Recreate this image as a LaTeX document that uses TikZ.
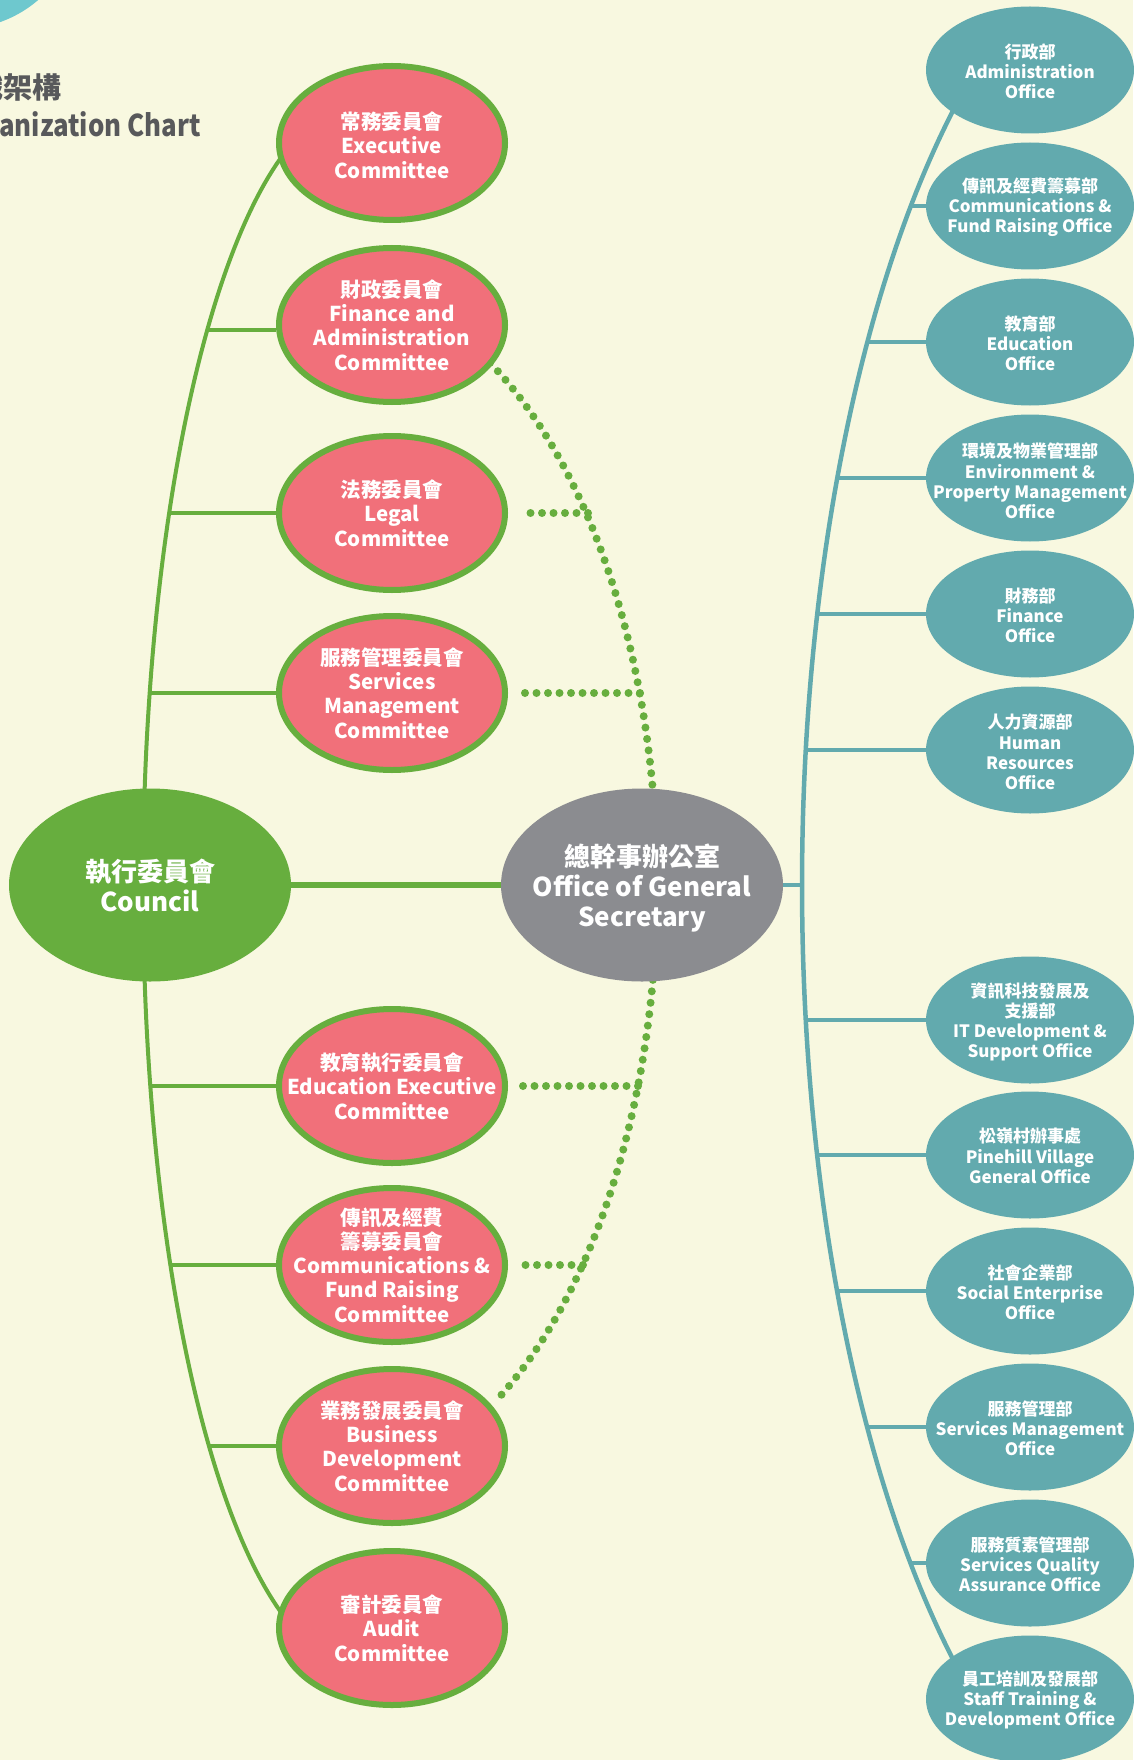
\documentclass[tikz,border=0pt]{standalone}
\usepackage{fontspec}
\setmainfont{Noto Sans CJK TC}
\newfontfamily\titlefont{Noto Sans CJK TC}[FakeStretch=0.86]
\usetikzlibrary{shapes.geometric}
\definecolor{bgc}{RGB}{248,248,224}
\definecolor{cgreen}{RGB}{103,174,62}
\definecolor{cred}{RGB}{241,112,122}
\definecolor{cgray}{RGB}{139,140,144}
\definecolor{cteal}{RGB}{98,170,174}
\definecolor{ctitle}{RGB}{88,89,91}
\definecolor{ccirc}{RGB}{110,200,206}
\pgfdeclarelayer{bg}
\pgfsetlayers{bg,main}
\tikzset{
  redell/.style={ellipse, draw=cgreen, line width=6pt, fill=cred, minimum width=226pt, minimum height=154pt, inner sep=0pt},
  tealell/.style={ellipse, fill=cteal, minimum width=208pt, minimum height=127pt, inner sep=0pt},
  redtxt/.style={text=white, align=center, inner sep=0pt, font=\bfseries\fontsize{20.5pt}{24.3pt}\selectfont},
  tealtxt/.style={text=white, align=center, inner sep=0pt, font=\bfseries\fontsize{17pt}{20.2pt}\selectfont},
  bigtxt/.style={text=white, align=center, inner sep=0pt, font=\bfseries\fontsize{26pt}{30pt}\selectfont},
  gline/.style={draw=cgreen, line width=4pt},
  tline/.style={draw=cteal, line width=4.5pt},
  dotline/.style={draw=cgreen, line width=8pt, line cap=round, dash pattern=on 0pt off 11.5pt},
  titlecjk/.style={text=ctitle, inner sep=0pt, font=\bfseries\fontsize{29pt}{34pt}\selectfont},
  titletxt/.style={text=ctitle, inner sep=0pt, font=\titlefont\bfseries\fontsize{30pt}{34pt}\selectfont}
}
\begin{document}
\begin{tikzpicture}[x=1pt,y=-1pt]
\useasboundingbox (0,0) rectangle (1133,1760);

% ---- title ----
\node[titlecjk, anchor=east] (title1) at (62,87) {組織架構};
\node[titletxt, anchor=base east] (title2) at (201,137) {Organization Chart};

% ---- central nodes ----
\node[ellipse, fill=cgreen, minimum width=282pt, minimum height=193pt, inner sep=0pt] (council) at (150,885) {};
\node[bigtxt] (councilt) at (council) {執行委員會\\Council};
\node[ellipse, fill=cgray, minimum width=282pt, minimum height=193pt, inner sep=0pt] (gs) at (642,885) {};
\node[bigtxt] (gst) at (642,888) {總幹事辦公室\\Office of General\\Secretary};

% ---- committees ----
\node[redell] (exe) at (392,143) {};
\node[redtxt] (exet) at (392,145) {常務委員會\\Executive\\Committee};
\node[redell] (fin) at (392,325) {};
\node[redtxt] (fint) at (fin) {財政委員會\\Finance and\\Administration\\Committee};
\node[redell] (leg) at (392,513) {};
\node[redtxt] (legt) at (leg) {法務委員會\\Legal\\Committee};
\node[redell] (ser) at (392,693) {};
\node[redtxt] (sert) at (ser) {服務管理委員會\\Services\\Management\\Committee};
\node[redell] (edu) at (392,1086) {};
\node[redtxt] (edut) at (edu) {教育執行委員會\\Education Executive\\Committee};
\node[redell] (com) at (392,1265) {};
\node[redtxt] (comt) at (com) {傳訊及經費\\籌募委員會\\Communications \&\\Fund Raising\\Committee};
\node[redell] (bus) at (392,1446) {};
\node[redtxt] (bust) at (bus) {業務發展委員會\\Business\\Development\\Committee};
\node[redell] (aud) at (392,1628) {};
\node[redtxt] (audt) at (aud) {審計委員會\\Audit\\Committee};

% ---- offices ----
\node[tealell] (ad) at (1030,70) {};
\node[tealtxt] (adt) at (1030,71) {行政部\\Administration\\Office};
\node[tealell] (cf) at (1030,206) {};
\node[tealtxt] (cft) at (1030,207) {傳訊及經費籌募部\\Communications \&\\Fund Raising Office};
\node[tealell] (ed) at (1030,342) {};
\node[tealtxt] (edt) at (1030,343) {教育部\\Education\\Office};
\node[tealell] (en) at (1030,478) {};
\node[tealtxt] (ent) at (1030,481) {環境及物業管理部\\Environment \&\\Property Management\\Office};
\node[tealell] (fi) at (1030,614) {};
\node[tealtxt] (fit) at (1030,615) {財務部\\Finance\\Office};
\node[tealell] (hr) at (1030,750) {};
\node[tealtxt] (hrt) at (1030,752) {人力資源部\\Human\\Resources\\Office};
\node[tealell] (it) at (1030,1020) {};
\node[tealtxt] (itt) at (1030,1022) {資訊科技發展及\\支援部\\IT Development \&\\Support Office};
\node[tealell] (pv) at (1030,1155) {};
\node[tealtxt] (pvt) at (1030,1156) {松嶺村辦事處\\Pinehill Village\\General Office};
\node[tealell] (se) at (1030,1291) {};
\node[tealtxt] (set) at (1030,1292) {社會企業部\\Social Enterprise\\Office};
\node[tealell] (sm) at (1030,1427) {};
\node[tealtxt] (smt) at (1030,1428) {服務管理部\\Services Management\\Office};
\node[tealell] (sq) at (1030,1563) {};
\node[tealtxt] (sqt) at (1030,1564) {服務質素管理部\\Services Quality\\Assurance Office};
\node[tealell] (st) at (1030,1699) {};
\node[tealtxt] (stt) at (1030,1700) {員工培訓及發展部\\Staff Training \&\\Development Office};

% ---- points on the brackets ----
\coordinate (gFin) at (205.5,330);
\coordinate (gLeg) at (169.1,513);
\coordinate (gSer) at (149.7,693);
\coordinate (gEdu) at (150.3,1086);
\coordinate (gCom) at (170.3,1265);
\coordinate (gBus) at (208.9,1446);

\coordinate (dLeg) at (588,513);
\coordinate (dSer) at (640,693);
\coordinate (dEdu) at (638,1086);
\coordinate (dCom) at (583,1265);

\coordinate (tCf) at (910.4,206);
\coordinate (tEd) at (867.3,342);
\coordinate (tEn) at (837.2,478);
\coordinate (tFi) at (817.2,614);
\coordinate (tHr) at (805.7,750);
\coordinate (tMid) at (802,885);
\coordinate (tIt) at (805.7,1020);
\coordinate (tPv) at (817.1,1155);
\coordinate (tSe) at (837.1,1291);
\coordinate (tSm) at (867.1,1427);
\coordinate (tSq) at (910.4,1563);

\begin{pgfonlayer}{bg}
  \fill[bgc] (0,0) rectangle (1133,1760);
  \fill[ccirc] (-40,-91) circle[radius=120pt];
  % green bracket
  \draw[gline] plot[domain=-70:70, samples=120, variable=\t] ({359-216*cos(\t)}, {885+780*sin(\t)});
  \draw[gline] (gFin) -- (fin.west |- gFin);
  \draw[gline] (gLeg) -- (leg.west);
  \draw[gline] (gSer) -- (ser.west);
  \draw[gline] (gEdu) -- (edu.west);
  \draw[gline] (gCom) -- (com.west);
  \draw[gline] (gBus) -- (bus.west);
  \draw[draw=cgreen, line width=6pt] (council.east) -- (gs.west);
  % dotted bracket
  \draw[dotline] plot[domain=-60.5:59.5, samples=120, variable=\t] ({328+329*cos(\t)}, {885+600*sin(\t)});
  \draw[dotline] (dLeg) -- ([xshift=12pt]leg.east);
  \draw[dotline] (dSer) -- ([xshift=12pt]ser.east);
  \draw[dotline] (dEdu) -- ([xshift=12pt]edu.east);
  \draw[dotline] (dCom) -- ([xshift=12pt]com.east);
  % teal bracket
  \draw[tline] plot[domain=-53:53, samples=120, variable=\t] ({1192-390*cos(\t)}, {885+980*sin(\t)});
  \draw[tline] (gs.east) -- (tMid);
  \draw[tline] (tCf) -- (cf.west);
  \draw[tline] (tEd) -- (ed.west);
  \draw[tline] (tEn) -- (en.west);
  \draw[tline] (tFi) -- (fi.west);
  \draw[tline] (tHr) -- (hr.west);
  \draw[tline] (tIt) -- (it.west);
  \draw[tline] (tPv) -- (pv.west);
  \draw[tline] (tSe) -- (se.west);
  \draw[tline] (tSm) -- (sm.west);
  \draw[tline] (tSq) -- (sq.west);
\end{pgfonlayer}
\end{tikzpicture}
\end{document}
